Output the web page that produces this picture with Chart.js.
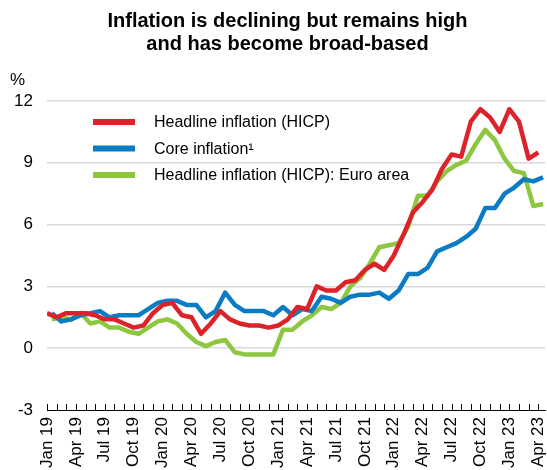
<!DOCTYPE html>
<html>
<head>
<meta charset="utf-8">
<script src="https://cdn.jsdelivr.net/npm/chart.js@4"></script>
<style>
html,body{margin:0;padding:0;background:#fff;}
canvas{display:block;}
</style>
</head>
<body>
<canvas id="c" width="547" height="470"></canvas>
<script>
// ---- data ----
const months = [
  'Jan 19','Feb 19','Mar 19','Apr 19','May 19','Jun 19','Jul 19','Aug 19','Sep 19','Oct 19','Nov 19','Dec 19',
  'Jan 20','Feb 20','Mar 20','Apr 20','May 20','Jun 20','Jul 20','Aug 20','Sep 20','Oct 20','Nov 20','Dec 20',
  'Jan 21','Feb 21','Mar 21','Apr 21','May 21','Jun 21','Jul 21','Aug 21','Sep 21','Oct 21','Nov 21','Dec 21',
  'Jan 22','Feb 22','Mar 22','Apr 22','May 22','Jun 22','Jul 22','Aug 22','Sep 22','Oct 22','Nov 22','Dec 22',
  'Jan 23','Feb 23','Mar 23','Apr 23'
];
const headline = [
  1.7,1.5,1.7,1.7,1.7,1.6,1.4,1.4,1.2,1.0,1.1,1.7,
  2.1,2.2,1.6,1.5,0.7,1.2,1.8,1.4,1.2,1.1,1.1,1.0,
  1.1,1.4,2.0,1.9,3.0,2.8,2.8,3.2,3.3,3.8,4.1,3.8,
  4.5,5.5,6.6,7.1,7.7,8.7,9.4,9.3,11.0,11.6,11.2,10.5,
  11.6,11.0,9.2,9.5
];
const core = [
  1.7,1.3,1.4,1.6,1.7,1.8,1.5,1.6,1.6,1.6,1.9,2.2,
  2.3,2.3,2.1,2.1,1.5,1.8,2.7,2.1,1.8,1.8,1.8,1.6,
  2.0,1.6,1.9,1.8,2.5,2.4,2.2,2.5,2.6,2.6,2.7,2.4,
  2.8,3.6,3.6,3.9,4.7,4.9,5.1,5.4,5.8,6.8,6.8,7.5,
  7.8,8.2,8.1,8.3
];
const euroArea = [
  1.4,1.5,1.4,1.7,1.2,1.3,1.0,1.0,0.8,0.7,1.0,1.3,
  1.4,1.2,0.7,0.3,0.1,0.3,0.4,-0.2,-0.3,-0.3,-0.3,-0.3,
  0.9,0.9,1.3,1.6,2.0,1.9,2.2,3.0,3.4,4.1,4.9,5.0,
  5.1,5.9,7.4,7.4,8.1,8.6,8.9,9.1,9.9,10.6,10.1,9.2,
  8.6,8.5,6.9,7.0
];
const seriesNames = ['Headline inflation (HICP)', 'Core inflation\u00B9', 'Headline inflation (HICP): Euro area'];
const seriesColors = ['#dc2329', '#0b7cc4', '#8dc63f'];
const titleLines = ['Inflation is declining but remains high', 'and has become broad-based'];
const unitLabel = '%';
const yTicks = [-3, 0, 3, 6, 9, 12];
const xLabelStep = 3;       // label every 3rd month
const midMonthShift = 0.5;  // core & euro area plotted mid-month in the source

// ---- chart ----
const FONT = '"Liberation Sans", Arial, Helvetica, sans-serif';
Chart.defaults.font.family = FONT;
Chart.defaults.color = '#000';

const toPts = (arr, shift) => arr.map((v, i) => ({ x: i + shift, y: v }));

const decor = {
  id: 'decor',
  afterLayout(chart) {
    const t = chart.titleBlock;
    if (t) { t.left = 28; t.right = 547; }
  },
  afterDraw(chart) {
    const { ctx, chartArea: a, scales: { x } } = chart;
    ctx.save();
    // upward month ticks on the bottom axis
    ctx.strokeStyle = '#000';
    ctx.lineWidth = 1;
    months.forEach((m, i) => {
      const px = Math.round(x.getPixelForValue(i)) + 0.5;
      ctx.beginPath();
      ctx.moveTo(px, a.bottom);
      ctx.lineTo(px, a.bottom - 6);
      ctx.stroke();
    });
    // unit label
    ctx.fillStyle = '#000';
    ctx.font = '17px ' + FONT;
    ctx.textAlign = 'left';
    ctx.textBaseline = 'middle';
    ctx.fillText(unitLabel, 10, 80);
    // legend
    ctx.font = '16px ' + FONT;
    chart.data.datasets.forEach((ds, k) => {
      const y = a.top + 21 + k * 26.5;
      ctx.strokeStyle = ds.borderColor;
      ctx.lineWidth = 6;
      ctx.lineCap = 'butt';
      ctx.beginPath();
      ctx.moveTo(a.left + 46, y);
      ctx.lineTo(a.left + 88, y);
      ctx.stroke();
      ctx.fillStyle = '#000';
      ctx.fillText(ds.label, a.left + 107, y + 1);
    });
    ctx.restore();
  }
};

new Chart(document.getElementById('c'), {
  type: 'line',
  data: {
    datasets: [
      { label: seriesNames[0], data: toPts(headline, 0), borderColor: seriesColors[0] },
      { label: seriesNames[1], data: toPts(core, midMonthShift), borderColor: seriesColors[1] },
      { label: seriesNames[2], data: toPts(euroArea, midMonthShift), borderColor: seriesColors[2] }
    ]
  },
  options: {
    responsive: false,
    animation: false,
    events: [],
    layout: { padding: { left: 0, right: 2, top: 0, bottom: 0 } },
    elements: {
      line: { borderWidth: 4.5, tension: 0, fill: false, borderJoinStyle: 'round' },
      point: { radius: 0, hoverRadius: 0 }
    },
    plugins: {
      legend: { display: false },
      tooltip: { enabled: false },
      title: {
        display: true,
        text: titleLines,
        color: '#000',
        font: { family: FONT, size: 20, weight: 'bold', lineHeight: 1.15 },
        padding: { top: 9.5, bottom: 45.5 }
      }
    },
    scales: {
      x: {
        type: 'linear',
        min: 0,
        max: 51.7,
        afterBuildTicks: s => {
          s.ticks = months.map((m, i) => ({ value: i })).filter(t => t.value % xLabelStep === 0);
        },
        afterFit: s => { s.height = 60; s.paddingLeft = 0; s.paddingRight = 0; },
        ticks: {
          autoSkip: false,
          minRotation: 90,
          maxRotation: 90,
          padding: 7,
          color: '#000',
          font: { size: 17 },
          callback: v => months[v]
        },
        grid: { display: false, drawTicks: false },
        border: { display: true, color: '#000', width: 1 }
      },
      y: {
        min: yTicks[0],
        max: yTicks[yTicks.length - 1],
        afterBuildTicks: s => { s.ticks = yTicks.map(v => ({ value: v })); },
        afterFit: s => { s.width = 47; s.paddingTop = 0; s.paddingBottom = 0; },
        ticks: { padding: 14, color: '#000', font: { size: 17 } },
        grid: {
          drawTicks: false,
          lineWidth: 1.5,
          color: c => (c.tick && c.tick.value === yTicks[0]) ? 'rgba(0,0,0,0)' : '#d9d9d9'
        },
        border: { display: false }
      }
    }
  },
  plugins: [decor]
});
</script>
</body>
</html>
